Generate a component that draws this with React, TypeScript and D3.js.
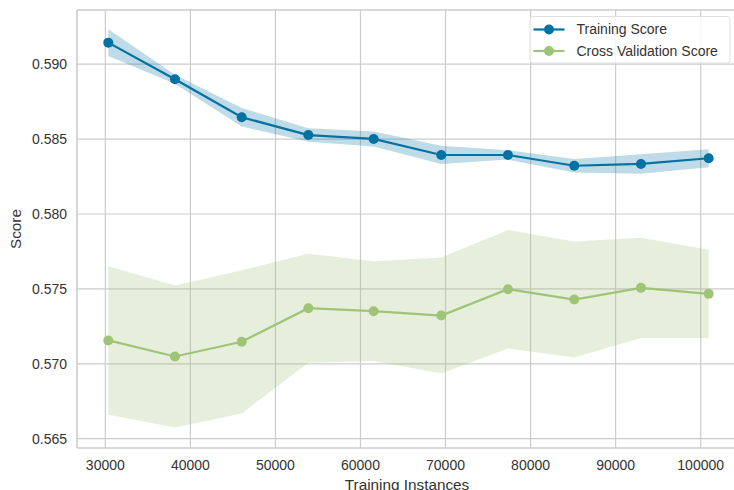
import React from "react";
import * as d3 from "d3";

const trainSizes = [30350, 38190, 46040, 53870, 61550, 69500, 77340, 85140, 92980, 100940];
const trainMean = [0.59144, 0.58899, 0.58646, 0.58527, 0.58501, 0.58394, 0.58394, 0.58322, 0.58334, 0.58372];
const trainStd = [0.00089, 0.0003, 0.00062, 0.00045, 0.0005, 0.00061, 0.00031, 0.00045, 0.00065, 0.0006];
const cvMean = [0.57156, 0.57049, 0.57147, 0.57371, 0.57351, 0.57322, 0.57498, 0.57429, 0.57507, 0.57467];
const cvStd = [0.00496, 0.00474, 0.00478, 0.00364, 0.00333, 0.00387, 0.00396, 0.00387, 0.00334, 0.00294];
const xTicks = [30000, 40000, 50000, 60000, 70000, 80000, 90000, 100000];
const yTicks = [0.565, 0.57, 0.575, 0.58, 0.585, 0.59];
const seriesNames = ["Training Score", "Cross Validation Score"];

const W = 734;
const H = 490;
const L = 77, R = 737, T = 10, B = 448;
const BLUE = "#0272a2";
const GREEN = "#9fc377";
const FONT = "'Liberation Sans', Arial, sans-serif";
const TEXT = "#333333";
const GRID = "#cccccc";

export default function App() {
  const x = d3.scaleLinear().domain([26670, 104270]).range([L, R]);
  const y = d3.scaleLinear().domain([0.564379, 0.593618]).range([B, T]);

  const series = [
    { mean: trainMean, std: trainStd, color: BLUE },
    { mean: cvMean, std: cvStd, color: GREEN },
  ];

  const area = (m: number[], s: number[]) =>
    d3
      .area<number>()
      .x((_, i) => x(trainSizes[i]))
      .y0((_, i) => y(m[i] - s[i]))
      .y1((_, i) => y(m[i] + s[i]))(m) || "";
  const line = (m: number[]) =>
    d3
      .line<number>()
      .x((_, i) => x(trainSizes[i]))
      .y((d) => y(d))(m) || "";

  return (
    <svg
      width={W}
      height={H}
      style={{ position: "absolute", left: 0, top: 0, background: "#fff" }}
      fontFamily={FONT}
    >
      <rect x={0} y={0} width={W} height={H} fill="#fff" />
      {/* grid */}
      {xTicks.map((t) => (
        <line key={"gx" + t} x1={x(t)} x2={x(t)} y1={T} y2={B} stroke={GRID} strokeWidth={1.2} />
      ))}
      {yTicks.map((t) => (
        <line key={"gy" + t} x1={L} x2={R} y1={y(t)} y2={y(t)} stroke={GRID} strokeWidth={1.2} />
      ))}
      {/* bands */}
      {series.map((s, k) => (
        <path key={"band" + k} d={area(s.mean, s.std)} fill={s.color} fillOpacity={0.26} stroke="none" />
      ))}
      {/* lines */}
      {series.map((s, k) => (
        <g key={"ln" + k}>
          <path d={line(s.mean)} fill="none" stroke={s.color} strokeWidth={2.2} />
          {s.mean.map((v, i) => (
            <circle key={i} cx={x(trainSizes[i])} cy={y(v)} r={5} fill={s.color} />
          ))}
        </g>
      ))}
      {/* axes frame */}
      <line x1={L} x2={R} y1={T} y2={T} stroke={GRID} strokeWidth={1.6} />
      <line x1={L} x2={R} y1={B} y2={B} stroke={GRID} strokeWidth={1.6} />
      <line x1={L} x2={L} y1={T} y2={B} stroke={GRID} strokeWidth={1.6} />
      {/* tick labels */}
      {xTicks.map((t) => (
        <text key={"tx" + t} x={x(t)} y={470} textAnchor="middle" fontSize={14} fill={TEXT}>
          {String(t)}
        </text>
      ))}
      {yTicks.map((t) => (
        <text key={"ty" + t} x={67} y={y(t)} dy="0.35em" textAnchor="end" fontSize={14} fill={TEXT}>
          {d3.format(".3f")(t)}
        </text>
      ))}
      {/* axis labels */}
      <text x={(L + R) / 2} y={490} textAnchor="middle" fontSize={15.3} fill={TEXT}>
        Training Instances
      </text>
      <text
        transform={`translate(20.5, ${(T + B) / 2}) rotate(-90)`}
        textAnchor="middle"
        fontSize={15.3}
        fill={TEXT}
      >
        Score
      </text>
      {/* legend */}
      <g>
        <rect x={530} y={16.5} width={200} height={46.5} rx={3} fill="#fff" fillOpacity={0.8} stroke="#e0e0e0" strokeWidth={1} />
        {seriesNames.map((n, i) => {
          const ly = 29.5 + i * 21.5;
          const c = series[i].color;
          return (
            <g key={n}>
              <line x1={533.5} x2={564.5} y1={ly} y2={ly} stroke={c} strokeWidth={2.2} />
              <circle cx={549} cy={ly} r={5} fill={c} />
              <text x={576.5} y={ly} dy="0.35em" fontSize={14} fill={TEXT}>
                {n}
              </text>
            </g>
          );
        })}
      </g>
    </svg>
  );
}
